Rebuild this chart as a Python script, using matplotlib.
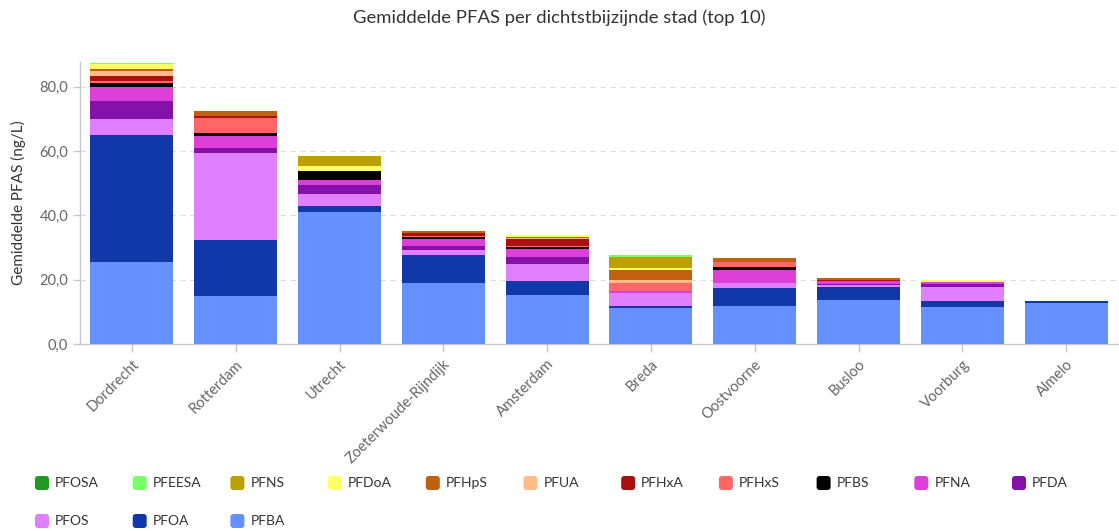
import numpy as np
import matplotlib
matplotlib.use('Agg')
import matplotlib.pyplot as plt
from matplotlib.patches import FancyBboxPatch
from matplotlib.transforms import IdentityTransform
from matplotlib.ticker import FuncFormatter

plt.rcParams['font.family'] = ['Lato', 'DejaVu Sans']

cities = ['Dordrecht', 'Rotterdam', 'Utrecht', 'Zoeterwoude-Rijndijk', 'Amsterdam',
          'Breda', 'Oostvoorne', 'Busloo', 'Voorburg', 'Almelo']

# stack order, bottom first
PFBA = [25.65, 14.8, 41.0, 18.9, 15.1, 11.2, 11.9, 13.75, 11.4, 12.6]
PFOA = [39.3, 17.4, 1.9, 8.8, 4.5, 0.7, 5.4, 3.85, 2.05, 0.85]
PFOS = [5.0, 27.1, 3.8, 1.6, 5.3, 3.9, 1.6, 0.8, 4.15, 0]
PFDA = [5.7, 1.8, 2.9, 1.3, 2.3, 0, 0.2, 0.2, 1.0, 0]
PFNA = [4.35, 3.6, 1.4, 2.1, 2.3, 0.7, 3.8, 0.85, 0.65, 0]
PFBS = [1.05, 1.0, 2.9, 0.5, 0.8, 0, 0.9, 0, 0, 0]
PFHxS = [0.6, 4.5, 0, 0.3, 0.3, 2.4, 1.7, 0.1, 0, 0]
PFHxA = [1.55, 0.7, 0, 1.0, 2.0, 0, 0, 0.5, 0, 0]
PFUA = [1.86, 0, 0, 0, 0.4, 0.85, 0, 0, 0, 0]
PFHpS = [0.4, 1.55, 0, 0.5, 0.4, 3.3, 1.3, 0.45, 0, 0]
PFDoA = [1.55, 0, 1.6, 0, 0.6, 0.7, 0, 0, 0.7, 0]
PFNS = [0, 0, 3.0, 0, 0, 3.2, 0, 0, 0, 0]
PFEESA = [0.3, 0, 0, 0, 0, 0.7, 0, 0, 0, 0]
PFOSA = [0.1, 0, 0, 0, 0, 0, 0, 0, 0, 0]

series = [
    ('PFBA', PFBA, '#6690ff'),
    ('PFOA', PFOA, '#1038a8'),
    ('PFOS', PFOS, '#e080ff'),
    ('PFDA', PFDA, '#8512a8'),
    ('PFNA', PFNA, '#dd40d8'),
    ('PFBS', PFBS, '#000000'),
    ('PFHxS', PFHxS, '#ff6666'),
    ('PFHxA', PFHxA, '#aa1010'),
    ('PFUA', PFUA, '#ffbb88'),
    ('PFHpS', PFHpS, '#c06010'),
    ('PFDoA', PFDoA, '#ffff66'),
    ('PFNS', PFNS, '#bba000'),
    ('PFEESA', PFEESA, '#77ff66'),
    ('PFOSA', PFOSA, '#229922'),
]

W, H = 1119, 531
fig = plt.figure(figsize=(W / 100, H / 100), dpi=100)
ax = fig.add_axes([80 / W, 1 - 344 / H, 1038 / W, (344 - 61.7) / H])

x = np.arange(len(cities))
bottom = np.zeros(len(cities))
for name, vals, col in series:
    vals = np.array(vals, dtype=float)
    ax.bar(x, vals, width=0.8, bottom=bottom, color=col, linewidth=0, zorder=3)
    bottom += vals

ax.set_xlim(-0.5, len(cities) - 0.5)
ax.set_ylim(0, 87.8)
ax.set_yticks([0, 20, 40, 60, 80])
ax.yaxis.set_major_formatter(FuncFormatter(lambda v, p: f'{v:.1f}'.replace('.', ',')))
ax.grid(axis='y', color='#dddddd', linestyle=(0, (5, 4)), linewidth=0.8, zorder=0)
ax.yaxis.get_gridlines()[0].set_visible(False)

for s in ['top', 'right']:
    ax.spines[s].set_visible(False)
for s in ['left', 'bottom']:
    ax.spines[s].set_color('#c8c8c8')
    ax.spines[s].set_linewidth(1)

ax.tick_params(axis='y', colors='#c8c8c8', labelcolor='#666666', labelsize=10.5, length=5, width=1)
ax.tick_params(axis='x', colors='#c8c8c8', labelcolor='#666666', labelsize=10.5, length=6, width=1)
ax.set_xticks(x)
ax.set_xticklabels(cities, rotation=45, ha='right', rotation_mode='anchor')
ax.set_ylabel('Gemiddelde PFAS (ng/L)', fontsize=11, color='#333333', labelpad=10)

fig.text(0.5, 1 - 18 / H, 'Gemiddelde PFAS per dichtstbijzijnde stad (top 10)',
         ha='center', va='center', fontsize=13.3, color='#333333')

# legend drawn by hand, top of stack first
legend_items = series[::-1]
sx0, step, sq = 35, 97.7, 14
rows_y = [483, 521]
for i, (name, vals, col) in enumerate(legend_items):
    row = 0 if i < 11 else 1
    colidx = i if i < 11 else i - 11
    px = sx0 + colidx * step
    py = H - rows_y[row]
    fig.add_artist(FancyBboxPatch((px, py - sq / 2), sq, sq,
                                  boxstyle='round,pad=0,rounding_size=3',
                                  transform=IdentityTransform(), color=col, linewidth=0))
    fig.text((px + sq + 6) / W, py / H, name, ha='left', va='center',
             fontsize=10, color='#333333')

fig.savefig('out.png', dpi=100)
